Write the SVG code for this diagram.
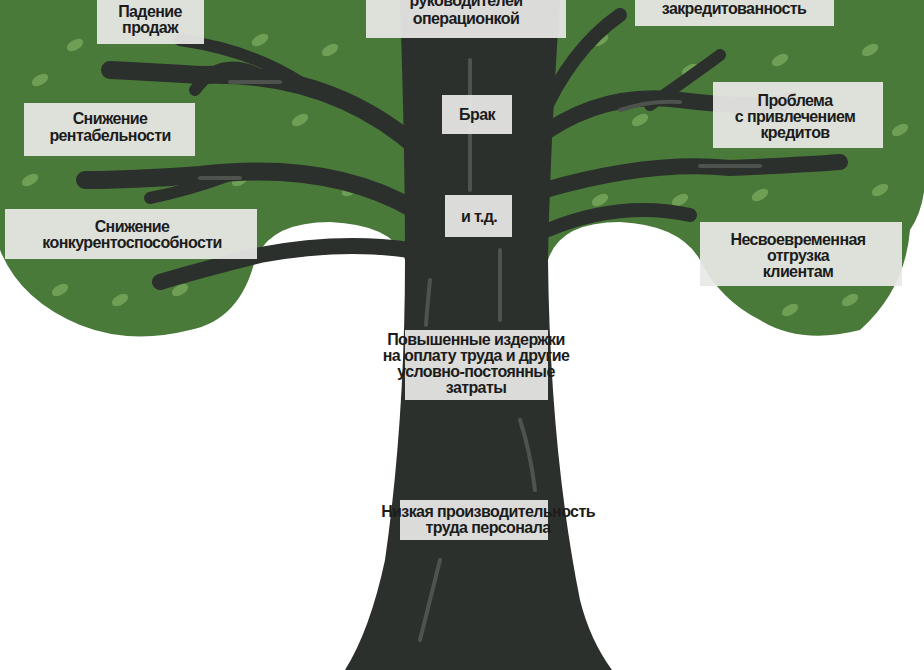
<svg xmlns="http://www.w3.org/2000/svg" width="924" height="670" viewBox="0 0 924 670">
<style>
.br{fill:none;stroke:#2c302c;stroke-linecap:round;stroke-linejoin:round}
.hl{fill:none;stroke:#4e534e;stroke-linecap:round;stroke-width:4}
.lf{fill:#6f9e55}
.box{fill:#e8e8e6;fill-opacity:0.93}
text{font-family:"Liberation Sans",Arial,sans-serif;font-weight:bold;font-size:16px;fill:#1c1c1c;text-anchor:middle;letter-spacing:-0.6px}
</style>
<rect width="924" height="670" fill="#ffffff"/>
<g id="canopy">
<path d="M0,0 H924 V150 Q930,200 910,230 Q905,290 860,330 Q800,345 760,320 Q720,300 700,260 Q680,225 620,222 Q560,222 548,260 L405,260 Q395,225 330,222 Q270,222 255,260 Q240,320 190,330 Q130,345 80,325 Q20,300 0,250 Z" fill="#4a7a3a"/>
<g class="lf">
<ellipse cx="40" cy="80" rx="9" ry="5" transform="rotate(-30 40 80)"/>
<ellipse cx="75" cy="45" rx="9" ry="5" transform="rotate(-30 75 45)"/>
<ellipse cx="30" cy="180" rx="9" ry="5" transform="rotate(-30 30 180)"/>
<ellipse cx="60" cy="290" rx="9" ry="5" transform="rotate(-30 60 290)"/>
<ellipse cx="120" cy="300" rx="9" ry="5" transform="rotate(-30 120 300)"/>
<ellipse cx="180" cy="290" rx="9" ry="5" transform="rotate(-30 180 290)"/>
<ellipse cx="240" cy="180" rx="9" ry="5" transform="rotate(-30 240 180)"/>
<ellipse cx="300" cy="120" rx="9" ry="5" transform="rotate(-30 300 120)"/>
<ellipse cx="260" cy="40" rx="9" ry="5" transform="rotate(-30 260 40)"/>
<ellipse cx="330" cy="50" rx="9" ry="5" transform="rotate(-30 330 50)"/>
<ellipse cx="350" cy="190" rx="9" ry="5" transform="rotate(-30 350 190)"/>
<ellipse cx="180" cy="180" rx="9" ry="5" transform="rotate(-30 180 180)"/>
<ellipse cx="600" cy="40" rx="9" ry="5" transform="rotate(-30 600 40)"/>
<ellipse cx="640" cy="120" rx="9" ry="5" transform="rotate(-30 640 120)"/>
<ellipse cx="690" cy="70" rx="9" ry="5" transform="rotate(-30 690 70)"/>
<ellipse cx="780" cy="60" rx="9" ry="5" transform="rotate(-30 780 60)"/>
<ellipse cx="870" cy="50" rx="9" ry="5" transform="rotate(-30 870 50)"/>
<ellipse cx="900" cy="130" rx="9" ry="5" transform="rotate(-30 900 130)"/>
<ellipse cx="880" cy="190" rx="9" ry="5" transform="rotate(-30 880 190)"/>
<ellipse cx="790" cy="310" rx="9" ry="5" transform="rotate(-30 790 310)"/>
<ellipse cx="850" cy="300" rx="9" ry="5" transform="rotate(-30 850 300)"/>
<ellipse cx="680" cy="200" rx="9" ry="5" transform="rotate(-30 680 200)"/>
<ellipse cx="600" cy="200" rx="9" ry="5" transform="rotate(-30 600 200)"/>
<ellipse cx="760" cy="195" rx="9" ry="5" transform="rotate(-30 760 195)"/>
</g>
</g>
<g id="tree">
<path d="M400,0 H560 Q550,150 548,260 Q550,450 580,600 Q590,640 612,670 H345 Q370,630 385,560 Q405,420 405,260 Q405,150 400,0 Z" fill="#2c302c"/>
<path class="br" stroke-width="18" d="M420,150 Q330,70 200,75 Q150,72 110,70"/>
<path class="br" stroke-width="12" d="M260,75 Q220,55 195,90"/>
<path class="br" stroke-width="12" d="M300,82 Q250,50 180,40"/>
<path class="br" stroke-width="18" d="M415,210 Q330,160 200,175 Q130,180 85,180"/>
<path class="br" stroke-width="12" d="M230,175 Q190,190 150,198"/>
<path class="br" stroke-width="16" d="M410,250 Q340,240 260,255 Q200,270 160,282"/>
<path class="br" stroke-width="16" d="M535,140 Q600,90 680,100 Q760,110 790,100"/>
<path class="br" stroke-width="14" d="M540,120 Q570,50 620,15"/>
<path class="br" stroke-width="12" d="M650,105 Q700,70 720,55"/>
<path class="br" stroke-width="16" d="M545,190 Q650,160 730,168 Q800,165 840,162"/>
<path class="br" stroke-width="14" d="M548,230 Q620,200 690,215"/>
<path class="hl" d="M470,60 V190 M500,250 V320 M430,280 Q427,310 426,325 M520,420 Q530,450 535,490 M440,560 Q430,600 420,640 M230,82 H280 M200,178 H240 M620,110 Q650,100 680,102 M700,166 H760"/>
</g>
<g id="labels">
<g id="n1"><rect class="box" x="97" y="0" width="107" height="44"/><text x="150" y="17">Падение</text><text x="150" y="33">продаж</text></g>
<g id="n2"><rect class="box" x="366" y="0" width="200" height="38"/><text x="466" y="6">руководителей</text><text x="466" y="24">операционкой</text></g>
<g id="n3"><rect class="box" x="635" y="0" width="199" height="26"/><text x="734" y="14">закредитованность</text></g>
<g id="n4"><rect class="box" x="24" y="103" width="171" height="53"/><text x="110" y="124">Снижение</text><text x="110" y="141">рентабельности</text></g>
<g id="n5"><rect class="box" x="442" y="95" width="70" height="39"/><text x="477" y="120">Брак</text></g>
<g id="n6"><rect class="box" x="713" y="82" width="170" height="66"/><text x="795" y="106">Проблема</text><text x="795" y="122">с привлечением</text><text x="795" y="138">кредитов</text></g>
<g id="n7"><rect class="box" x="445" y="195" width="67" height="42"/><text x="479" y="222">и т.д.</text></g>
<g id="n8"><rect class="box" x="5" y="209" width="252" height="50"/><text x="132" y="232">Снижение</text><text x="132" y="248">конкурентоспособности</text></g>
<g id="n9"><rect class="box" x="700" y="222" width="202" height="64"/><text x="798" y="245">Несвоевременная</text><text x="798" y="261">отгрузка</text><text x="798" y="277">клиентам</text></g>
<g id="n10"><rect class="box" x="405" y="330" width="143" height="70"/><text x="476" y="345">Повышенные издержки</text><text x="476" y="361">на оплату труда и другие</text><text x="476" y="377">условно-постоянные</text><text x="476" y="393">затраты</text></g>
<g id="n11"><rect class="box" x="400" y="500" width="148" height="40"/><text x="488" y="517">Низкая производительность</text><text x="488" y="533">труда персонала</text></g>
</g>
</svg>
